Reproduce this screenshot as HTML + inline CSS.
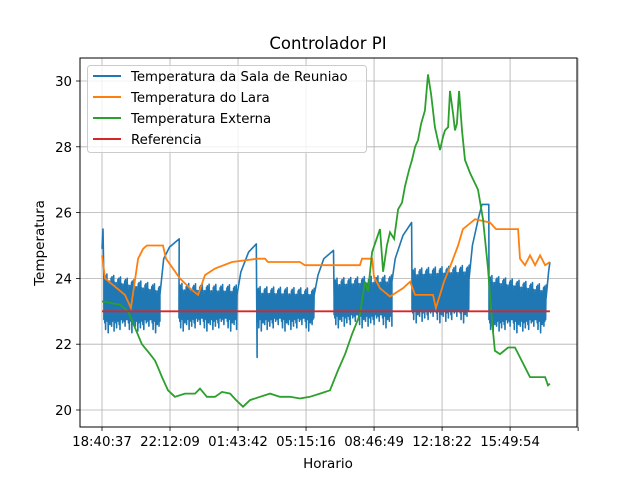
<!DOCTYPE html>
<html><head><meta charset="utf-8"><style>
body{margin:0;background:#fff}
svg text{font-family:"DejaVu Sans","Liberation Sans",sans-serif;fill:#000}
</style></head><body>
<svg id="chart" width="640" height="480" xmlns="http://www.w3.org/2000/svg">
<rect width="640" height="480" fill="#fff"/>
<text x="328" y="49" font-size="16.5" text-anchor="middle">Controlador PI</text>
<g id="grid"></g>
<g id="series"></g>
<rect x="80" y="58" width="497" height="369" fill="none" stroke="#000" stroke-width="1"/>
<g id="axes"></g>
<text x="328" y="468" font-size="13.5" text-anchor="middle">Horario</text>
<text transform="translate(44,243) rotate(-90)" font-size="13.5" text-anchor="middle">Temperatura</text>
<g>
<rect x="87.5" y="65.5" width="279" height="87" rx="3" fill="#fff" fill-opacity="0.8" stroke="#ccc"/>
<line x1="93" y1="76" x2="121" y2="76" stroke="#1f77b4" stroke-width="2"/>
<text x="131" y="81" font-size="13.3">Temperatura da Sala de Reuniao</text>
<line x1="93" y1="97" x2="121" y2="97" stroke="#ff7f0e" stroke-width="2"/>
<text x="131" y="102" font-size="13.3">Temperatura do Lara</text>
<line x1="93" y1="118" x2="121" y2="118" stroke="#2ca02c" stroke-width="2"/>
<text x="131" y="123" font-size="13.3">Temperatura Externa</text>
<line x1="93" y1="139" x2="121" y2="139" stroke="#d62728" stroke-width="2"/>
<text x="131" y="144" font-size="13.3">Referencia</text>
</g>
</svg>
<script>
const xTickHours=[0,3.5259,7.0518,10.5778,14.1037,17.6296,21.1555,24.6814];
const xTickLabels=["18:40:37","22:12:09","01:43:42","05:15:16","08:46:49","12:18:22","15:49:54",""];
const yTicks=[20,22,24,26,28,30];
const refValue=23.0;const refStart=0;const refEnd=23.22;
const laraT=[0,0.16,1.19,1.5,1.87,2.13,2.33,3.16,3.32,4.04,4.56,4.98,5.34,5.86,6.74,8.09,8.45,8.6,10.26,10.52,13.37,13.48,14.0,14.1,14.41,14.93,15.6,15.97,16.23,17.16,17.31,17.73,18.14,18.46,18.71,19.34,20.11,20.43,21.57,21.67,21.93,22.19,22.45,22.71,22.97,23.22];
const laraV=[24.7,24.0,23.5,23.1,24.6,24.9,25.0,25.0,24.6,24.0,23.7,23.5,24.1,24.3,24.5,24.6,24.6,24.5,24.5,24.4,24.4,24.6,24.6,24.05,23.7,23.45,23.7,23.9,23.5,23.5,23.1,23.9,24.5,25.0,25.5,25.8,25.7,25.5,25.5,24.6,24.4,24.7,24.4,24.7,24.4,24.5];
const extT=[0,0.93,1.35,1.71,2.07,2.49,2.75,2.9,3.11,3.42,3.78,4.3,4.82,5.08,5.44,5.86,6.22,6.64,6.95,7.31,7.67,8.19,8.71,9.23,9.75,10.26,10.78,11.3,11.82,12.23,12.6,12.96,13.37,13.63,13.79,14.0,14.41,14.57,14.77,14.93,15.14,15.35,15.55,15.71,15.92,16.07,16.23,16.38,16.54,16.74,16.9,17.06,17.26,17.52,17.68,17.78,17.94,18.04,18.2,18.3,18.4,18.51,18.66,18.82,19.08,19.49,19.75,20.01,20.22,20.37,20.63,21.05,21.41,21.67,21.93,22.19,22.6,22.97,23.12,23.22];
const extV=[23.3,23.2,23.0,22.5,22.0,21.7,21.5,21.3,21.0,20.6,20.4,20.5,20.5,20.65,20.4,20.4,20.55,20.5,20.3,20.1,20.3,20.4,20.5,20.4,20.4,20.35,20.4,20.5,20.6,21.2,21.7,22.3,22.9,23.9,23.6,24.8,25.5,24.2,25.0,25.4,25.2,26.1,26.3,26.8,27.3,27.6,28.0,28.2,28.7,29.1,30.2,29.6,28.6,27.9,28.3,28.5,28.6,29.7,29.0,28.5,28.7,29.7,28.5,27.6,27.2,26.7,25.8,24.3,22.7,21.8,21.7,21.9,21.9,21.6,21.3,21.0,21.0,21.0,20.75,20.8];
// Sala: oscillation bands
const bandStart=[0.1,3.99,8.04,12.03,16.07,20.06];
const bandEnd=[3.0,7.0,11.0,15.03,19.03,23.02];
const bandTopStart=[23.95,23.65,23.55,23.8,24.1,23.9];
const bandTopEnd=[23.6,23.6,23.5,23.9,24.2,23.6];
const bandBottom=[22.75,22.8,22.8,22.9,23.05,22.75];
const dipDepth=[0,0.1,0.3,0,0.05,0.4,0,0.15,0,0.2,0.05,0,0.35,0.1,0,0.25,0,0.05,0.15,0.3,0,0,0.1,0,0.05,0.2,0,0];
const topJitter=[0,0.1,-0.05,0.15,0,-0.1,0.05,0.2,-0.05,0,0.1,-0.15,0.05,0,0.12,-0.08];
// Sala: recovery ramps
const rampT=[[0,0.05,0.1],[3.0,3.2,3.5,4.0,3.99],[7.0,7.2,7.6,8.0,8.04],[11.0,11.2,11.5,12.0,12.03],[15.03,15.2,15.6,16.05,16.07],[19.03,19.2,19.5,19.7,20.05,20.06],[23.02,23.15,23.22]];
const rampV=[[24.9,25.5,23.9],[23.5,24.6,24.95,25.2,23.4],[23.5,24.2,24.8,25.05,21.6],[23.5,24.1,24.6,24.85,23.4],[23.9,24.6,25.3,25.7,23.8],[24.0,25.0,25.8,26.25,26.25,23.6],[23.4,24.2,24.5]];

const NS="http://www.w3.org/2000/svg";
const X=t=>102+t*19.29;
const Y=v=>410-(v-20)*32.9;
const grid=document.getElementById('grid'),axes=document.getElementById('axes'),ser=document.getElementById('series');
function mk(tag,attrs,parent){const e=document.createElementNS(NS,tag);for(const k in attrs)e.setAttribute(k,attrs[k]);parent.appendChild(e);return e;}
xTickHours.forEach((h,i)=>{
  const x=X(h);
  const g=mk('line',{x1:x,y1:58,x2:x,y2:427,stroke:'#b0b0b0','stroke-width':0.8},grid);
  
  
  const t=mk('line',{x1:x,y1:427,x2:x,y2:431,stroke:'#000','stroke-width':0.8},axes);
  
  
  if(xTickLabels[i]){const l=mk('text',{x:x,y:446,'font-size':13.3,'text-anchor':'middle'},axes);l.textContent=xTickLabels[i];
  
  }
});
yTicks.forEach(v=>{
  const y=Y(v);
  const g=mk('line',{x1:80,y1:y,x2:577,y2:y,stroke:'#b0b0b0','stroke-width':0.8},grid);
  
  
  const t=mk('line',{x1:76,y1:y,x2:80,y2:y,stroke:'#000','stroke-width':0.8},axes);
  
  
  const l=mk('text',{x:72,y:y+5,'font-size':13.3,'text-anchor':'end'},axes);l.textContent=v;
  
  
});
function poly(T,V){return T.map((t,i)=>X(t).toFixed(1)+','+Y(V[i]).toFixed(1)).join(' ');}
let pts=[];
for(let b=0;b<bandStart.length;b++){
  rampT[b].forEach((t,i)=>pts.push([t,rampV[b][i]]));
  const n=Math.round((bandEnd[b]-bandStart[b])/0.022);
  for(let k=0;k<=n;k++){
    const f=k/n,t=bandStart[b]+f*(bandEnd[b]-bandStart[b]);
    const top=bandTopStart[b]+f*(bandTopEnd[b]-bandTopStart[b])+topJitter[k%topJitter.length];
    pts.push([t,k%2?top:bandBottom[b]-dipDepth[(k>>1)%dipDepth.length]]);
  }
}
rampT[6].forEach((t,i)=>pts.push([t,rampV[6][i]]));
const sala=mk('polyline',{points:pts.map(p=>X(p[0]).toFixed(1)+','+Y(p[1]).toFixed(1)).join(' '),fill:'none',stroke:'#1f77b4','stroke-width':1.6,'stroke-linejoin':'round'},ser);


const lara=mk('polyline',{points:poly(laraT,laraV),fill:'none',stroke:'#ff7f0e','stroke-width':1.8},ser);


const ext=mk('polyline',{points:poly(extT,extV),fill:'none',stroke:'#2ca02c','stroke-width':1.8},ser);


const ref=mk('line',{x1:X(refStart),y1:Y(refValue),x2:X(refEnd),y2:Y(refValue),stroke:'#d62728','stroke-width':1.8},ser);


</script>
</body></html>
